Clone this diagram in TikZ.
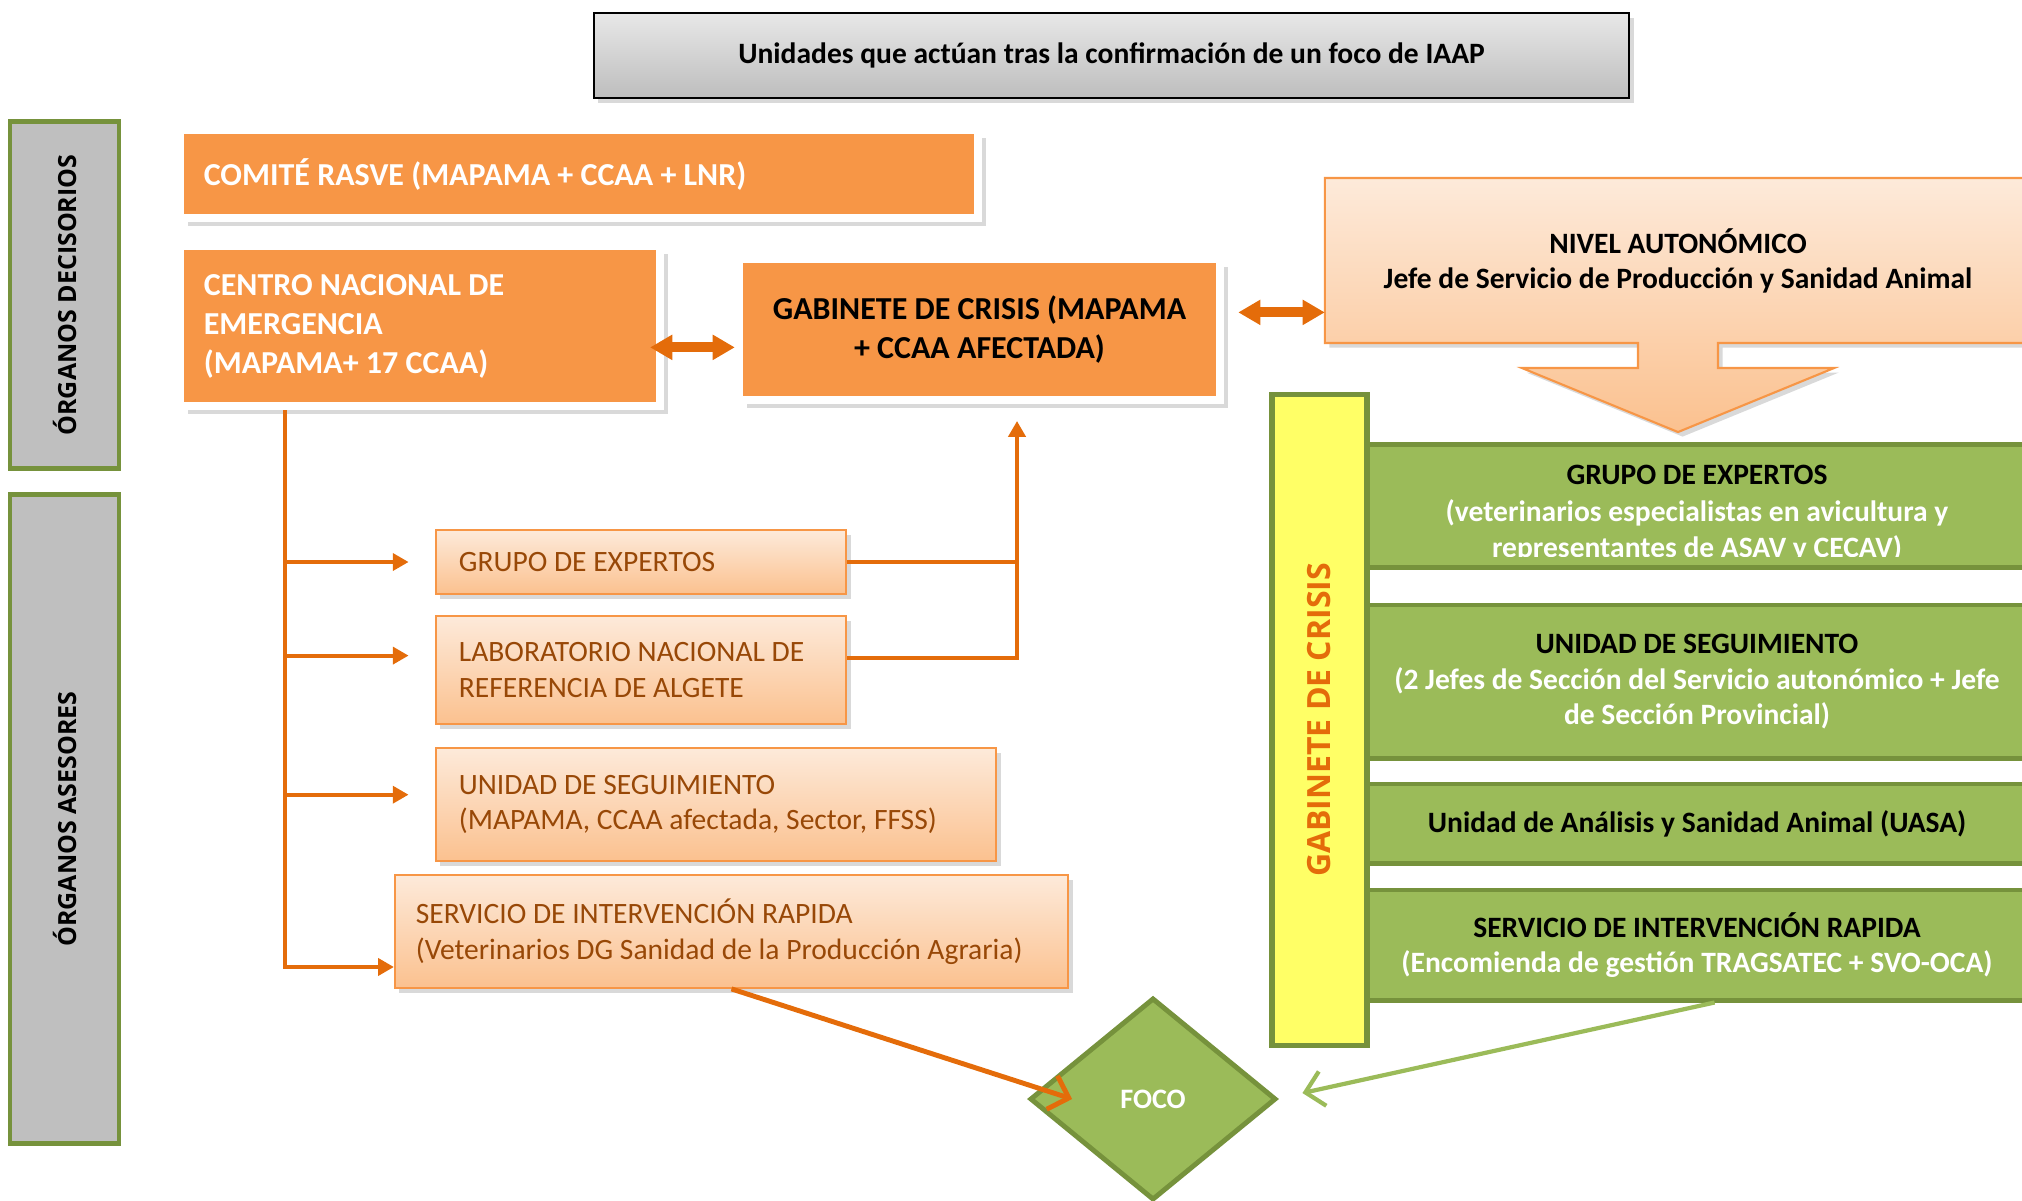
\documentclass[tikz,border=0pt]{standalone}
\usepackage{fontspec}
\setmainfont{Carlito}
\newfontfamily\rotulo{Open Sans}
\usetikzlibrary{positioning,arrows.meta,shapes.geometric,shadows,calc,backgrounds}
\definecolor{naranja}{HTML}{F79646}
\definecolor{naranjaosc}{HTML}{E46C0A}
\definecolor{marron}{HTML}{984807}
\definecolor{melocoton}{HTML}{FDEADA}
\definecolor{melocotonosc}{HTML}{FBC18F}
\definecolor{verde}{HTML}{9BBB59}
\definecolor{verdeosc}{HTML}{76923C}
\definecolor{gris}{HTML}{BFBFBF}
\definecolor{grisclaro}{HTML}{E8E8E8}
\definecolor{grisosc}{HTML}{BDBDBD}
\definecolor{amarillo}{HTML}{FFFF66}
\tikzset{sombra/.style={drop shadow={shadow xshift=1.3pt,shadow yshift=-1.3pt,opacity=.3}},
         espacios/.style={execute at begin node={\spaceskip=0pt\xspaceskip=0pt}},
         cajatitulo/.style={draw=black,line width=.6pt,top color=grisclaro,bottom color=grisosc,sombra,font=\bfseries\fontsize{8.4}{10}\selectfont},
         barragris/.style={draw=verdeosc,fill=gris,line width=1.4pt,font=\rotulo\bfseries\fontsize{7.1}{8}\selectfont},
         barraamarilla/.style={draw=verdeosc,fill=amarillo,line width=1.5pt,text=naranjaosc,font=\rotulo\bfseries\fontsize{9.1}{10}\selectfont},
         cajanaranja/.style={draw=white,fill=naranja,line width=2.3pt,text=white,align=left,espacios,font=\bfseries\fontsize{9.1}{11.1}\selectfont,drop shadow={shadow xshift=2.2pt,shadow yshift=-2.2pt,opacity=.3}},
         cajamelocoton/.style={draw=naranja,line width=.5pt,top color=melocoton,bottom color=melocotonosc,text=marron,align=left,espacios,sombra,font=\fontsize{8.4}{10.2}\selectfont},
         cajaverde/.style={draw=verdeosc,fill=verde,line width=1.4pt,align=center,font=\bfseries\fontsize{8.4}{10.1}\selectfont},
         linea/.style={draw=naranjaosc,line width=1.15pt},
         flecha/.style={linea,-{Triangle[length=4.5pt,width=4.8pt]}},
         rama/.style={flecha,shorten >=7.5pt},
         doble/.style={draw=naranjaosc,line width=2.8pt,{Triangle[length=6.3pt,width=6.8pt]}-{Triangle[length=6.3pt,width=6.8pt]}},
         haciafoco/.style={line width=1.4pt,-{Straight Barb[length=5pt,width=10pt]}},
        }
\begin{document}
\begin{tikzpicture}[x=0.01cm,y=-0.01cm]
    \useasboundingbox(0,0)rectangle(2022,1200);
    \node[cajatitulo,minimum width=10.35cm,minimum height=.85cm](titulo)at(1111.5,55.5){Unidades que actúan tras la confirmación de un foco de IAAP};

    \node[barragris,rotate=90,minimum width=3.46cm,minimum height=1.09cm](decisorios)at(64.5,295){ÓRGANOS DECISORIOS};
    \node[barragris,rotate=90,minimum width=6.48cm,minimum height=1.09cm](asesores)at(64.5,819){ÓRGANOS ASESORES};

    \node[cajanaranja,text width=7.5cm,inner xsep=.24cm,minimum height=.88cm](comite)at(579,174){COMITÉ RASVE (MAPAMA + CCAA + LNR)};
    \node[cajanaranja,text width=4.32cm,inner xsep=.24cm,minimum height=1.6cm](centro)at(420,326){CENTRO NACIONAL DE\\EMERGENCIA\\(MAPAMA+ 17 CCAA)};
    \node[cajanaranja,text=black,align=center,minimum width=4.81cm,minimum height=1.41cm](gabinete)at(979.5,329.5){GABINETE DE CRISIS (MAPAMA\\+ CCAA AFECTADA)};

    \node[minimum width=7.06cm,minimum height=1.65cm,outer sep=0pt,align=center,font=\bfseries\fontsize{8.4}{10}\selectfont](nivel)at(1678,260.5){NIVEL AUTONÓMICO\\Jefe de Servicio de Producción y Sanidad Animal};
    \begin{scope}[on background layer]
        \path[draw=naranja,line width=.6pt,top color=melocoton,bottom color=melocotonosc,sombra](nivel.north west)--(nivel.north east)--(nivel.south east)--($(nivel.south)+(40,0)$)--($(nivel.south)+(40,25)$)--($(nivel.south)+(156,25)$)--($(nivel.south)+(0,89)$)--($(nivel.south)+(-156,25)$)--($(nivel.south)+(-40,25)$)--($(nivel.south)+(-40,0)$)--(nivel.south west)--cycle;
    \end{scope}

    \node[cajamelocoton,text width=3.64cm,inner xsep=.23cm,minimum height=.64cm](expertos)at(641,562){GRUPO DE EXPERTOS};
    \node[cajamelocoton,text width=3.64cm,inner xsep=.23cm,minimum height=1.08cm](laboratorio)at(641,670){LABORATORIO NACIONAL DE\\REFERENCIA DE ALGETE};
    \node[cajamelocoton,text width=5.14cm,inner xsep=.23cm,minimum height=1.13cm](seguimiento)at(716,804.5){UNIDAD DE SEGUIMIENTO\\(MAPAMA, CCAA afectada, Sector, FFSS)};
    \node[cajamelocoton,text width=6.31cm,inner xsep=.21cm,minimum height=1.13cm](servicio)at(731.5,931.5){SERVICIO DE INTERVENCIÓN RAPIDA\\(Veterinarios DG Sanidad de la Producción Agraria)};

    \node[cajaverde,minimum width=6.7cm,minimum height=1.23cm](gexpertos)at(1697,506){};
    \begin{scope}
        \clip(gexpertos.north west)rectangle([yshift=3.9pt]gexpertos.south east);
        \node[align=center,font=\bfseries\fontsize{8.4}{10.4}\selectfont](gexpertostxt)at(1697,514){GRUPO DE EXPERTOS\\\textcolor{white}{(veterinarios especialistas en avicultura y}\\\textcolor{white}{representantes de ASAV y CECAV)}};
    \end{scope}
    \node[cajaverde,minimum width=6.7cm,minimum height=1.535cm](gseguimiento)at(1697,681.75){UNIDAD DE SEGUIMIENTO\\\textcolor{white}{(2 Jefes de Sección del Servicio autonómico + Jefe}\\\textcolor{white}{de Sección Provincial)}};
    \node[cajaverde,minimum width=6.7cm,minimum height=.79cm](guasa)at(1697,823.5){Unidad de Análisis y Sanidad Animal (UASA)};
    \node[cajaverde,minimum width=6.7cm,minimum height=1.1cm](gservicio)at(1697,945){SERVICIO DE INTERVENCIÓN RAPIDA\\\textcolor{white}{(Encomienda de gestión TRAGSATEC + SVO-OCA)}};
    \node[barraamarilla,rotate=90,minimum width=6.5cm,minimum height=.95cm](gcrisis)at(1319.5,720){GABINETE DE CRISIS};

    \node[diamond,draw=verdeosc,fill=verde,line width=1.4pt,minimum width=2.46cm,minimum height=2.02cm,inner sep=0pt,text=white,font=\bfseries\fontsize{8}{9}\selectfont](foco)at(1153,1099){FOCO};

    \coordinate(tronco)at(285,970);
    \coordinate(subida)at(1017,658);
    \draw[flecha](centro.south-|tronco)|-(servicio.186);
    \draw[rama](tronco|-expertos.west)--(expertos.west);
    \draw[rama](tronco|-laboratorio.176)--(laboratorio.176);
    \draw[rama](tronco|-seguimiento.178)--(seguimiento.178);
    \draw[linea](expertos.east)-|(subida);
    \draw[flecha,shorten >=4.8pt](laboratorio.east|-subida)--(subida)--(subida|-gabinete.south);
    \draw[doble,shorten <=-4pt](centro.355)--(centro.355-|gabinete.west);
    \draw[doble,shorten <=4pt](gabinete.4)--(gabinete.4-|nivel.west);
    \draw[haciafoco,draw=naranjaosc](servicio.south)--([xshift=-23pt]foco.center);
    \draw[haciafoco,draw=verde,line width=1.2pt](gservicio.287)--([xshift=6.8pt,yshift=1.7pt]foco.east);
\end{tikzpicture}
\end{document}
